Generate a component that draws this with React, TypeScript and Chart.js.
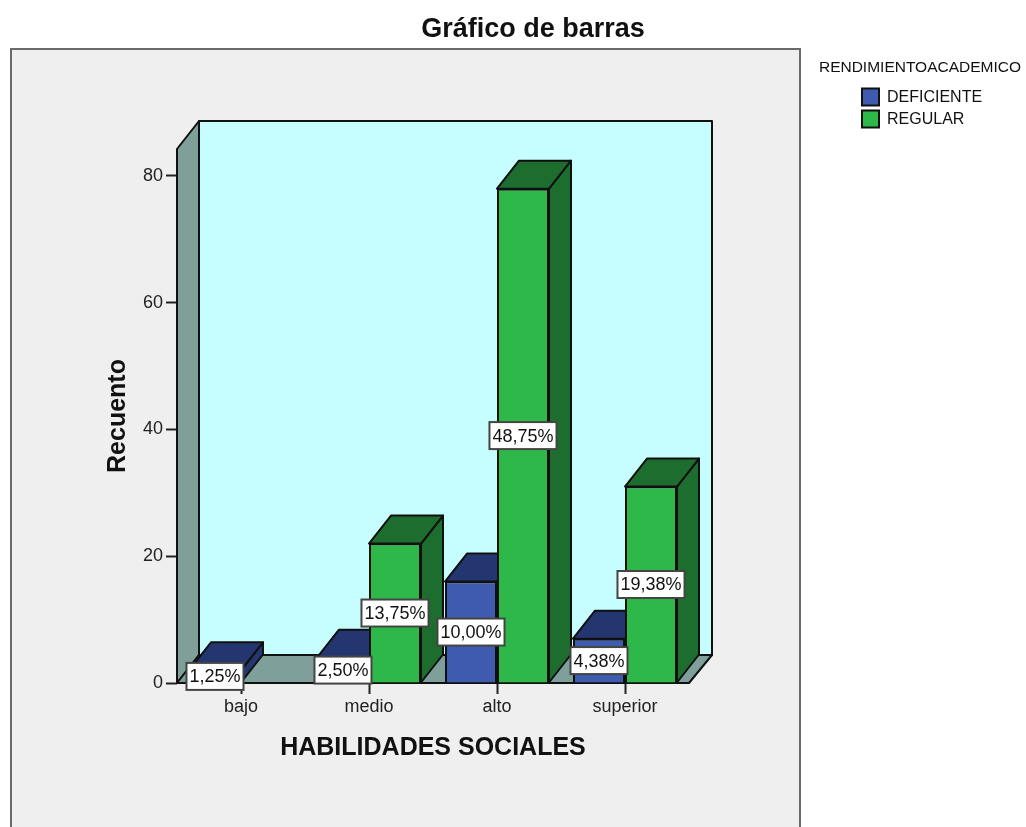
import React, { useEffect, useRef } from "react";
import { Chart, registerables } from "chart.js";

Chart.register(...registerables);

const categories = ["bajo", "medio", "alto", "superior"];
const deficiente = [2, 4, 16, 7];
const regular = [null, 22, 78, 31];
const deficienteLabels = ["1,25%", "2,50%", "10,00%", "4,38%"];
const regularLabels = ["", "13,75%", "48,75%", "19,38%"];
const pointLabels = [deficienteLabels, regularLabels];
const yTicks = [0, 20, 40, 60, 80];

const FONT = "'Liberation Sans', Arial, sans-serif";
const DX = 22;
const DY = 28;
const INK = "#101010";
const fronts = ["#3f5bb0", "#2fb84a"];
const shades = ["#24366f", "#1d6e2e"];

const poly = (ctx: CanvasRenderingContext2D, pts: number[][], fill: string) => {
  ctx.beginPath();
  pts.forEach(([x, y], i) => (i ? ctx.lineTo(x, y) : ctx.moveTo(x, y)));
  ctx.closePath();
  ctx.fillStyle = fill;
  ctx.fill();
  ctx.stroke();
};

const panelPlugin = {
  id: "panel",
  beforeDraw(chart: any) {
    const ctx = chart.ctx;
    ctx.save();
    ctx.fillStyle = "#efefef";
    ctx.fillRect(11, 49, 789, 790);
    ctx.strokeStyle = "#6a6a6a";
    ctx.lineWidth = 2;
    ctx.strokeRect(11, 49, 789, 790);
    ctx.restore();
  },
};

const boxesPlugin = {
  id: "moveBoxes",
  afterLayout(chart: any) {
    const t = chart.titleBlock;
    t.left = 33;
    t.right = 1033;
    t.width = 1000;
    t.top = 13;
    t.bottom = 45.4;
    const l = chart.legend;
    l.left = 857;
    l.width = 126;
    l.right = 983;
    l.top = 60;
    l.height = 120;
    l.bottom = 180;
    // the moved legend title is wider than the legend's own box: draw without its clip
    l.draw = function () {
      this._draw();
    };
  },
};

const depthPlugin = {
  id: "depth",
  beforeDatasetsDraw(chart: any) {
    const { ctx, chartArea: a } = chart;
    ctx.save();
    ctx.strokeStyle = INK;
    ctx.lineWidth = 2;
    ctx.lineJoin = "round";
    const backR = a.right + DX + 1;
    ctx.fillStyle = "#c6feff";
    ctx.fillRect(a.left + DX, a.top - DY, backR - a.left - DX, a.bottom - a.top);
    ctx.strokeRect(a.left + DX, a.top - DY, backR - a.left - DX, a.bottom - a.top);
    poly(ctx, [[a.left, a.top], [a.left + DX, a.top - DY], [a.left + DX, a.bottom - DY], [a.left, a.bottom]], "#7f9f9b");
    poly(ctx, [[a.left, a.bottom], [a.left + DX, a.bottom - DY], [backR, a.bottom - DY], [a.right, a.bottom]], "#7f9f9b");
    chart.data.datasets.forEach((ds: any, di: number) => {
      chart.getDatasetMeta(di).data.forEach((bar: any, i: number) => {
        if (ds.data[i] == null) return;
        const l = bar.x - bar.width / 2;
        const r = bar.x + bar.width / 2;
        const shade = shades[di];
        poly(ctx, [[r, bar.y], [r + DX, bar.y - DY], [r + DX, bar.base - DY], [r, bar.base]], shade);
        poly(ctx, [[l, bar.y], [l + DX, bar.y - DY], [r + DX, bar.y - DY], [r, bar.y]], shade);
      });
    });
    ctx.restore();
  },
};

const labelPlugin = {
  id: "pctLabels",
  afterDatasetsDraw(chart: any) {
    const ctx = chart.ctx;
    ctx.save();
    ctx.font = `18px ${FONT}`;
    ctx.textAlign = "center";
    ctx.textBaseline = "middle";
    chart.data.datasets.forEach((ds: any, di: number) => {
      chart.getDatasetMeta(di).data.forEach((bar: any, i: number) => {
        if (ds.data[i] == null) return;
        const text = pointLabels[di][i];
        const w = ctx.measureText(text).width + 6;
        const h = 27;
        const cy = (bar.y + bar.base) / 2;
        ctx.fillStyle = "#ffffff";
        ctx.strokeStyle = "#444444";
        ctx.lineWidth = 2;
        ctx.fillRect(bar.x - w / 2, cy - h / 2, w, h);
        ctx.strokeRect(bar.x - w / 2, cy - h / 2, w, h);
        ctx.fillStyle = "#111111";
        ctx.fillText(text, bar.x, cy + 1);
      });
    });
    ctx.restore();
  },
};

export default function App() {
  const ref = useRef<HTMLCanvasElement | null>(null);
  useEffect(() => {
    const chart = new Chart(ref.current as HTMLCanvasElement, {
      type: "bar",
      data: {
        labels: categories,
        datasets: [
          { label: "DEFICIENTE", data: deficiente, backgroundColor: fronts[0], borderColor: INK, borderWidth: 2, categoryPercentage: 0.8125, barPercentage: 1 },
          { label: "REGULAR", data: regular, backgroundColor: fronts[1], borderColor: INK, borderWidth: 2, categoryPercentage: 0.8125, barPercentage: 1 },
        ],
      } as any,
      options: {
        responsive: false,
        animation: false,
        layout: { padding: { left: 103, right: 297, top: 116.6, bottom: 64 } },
        plugins: {
          tooltip: { enabled: false },
          title: {
            display: true,
            text: "Gráfico de barras",
            color: "#111111",
            padding: 0,
            font: { family: FONT, size: 27, weight: "bold" },
          },
          legend: {
            display: true,
            position: "right",
            align: "start",
            maxWidth: 40,
            title: {
              display: true,
              text: "RENDIMIENTOACADEMICO",
              position: "center",
              color: "#111111",
              padding: { top: 0, bottom: 5 },
              font: { family: FONT, size: 15.5 },
            },
            labels: {
              boxWidth: 17,
              boxHeight: 17,
              padding: 5,
              color: "#111111",
              font: { family: FONT, size: 16 },
            },
          },
        },
        scales: {
          x: {
            afterFit(s: any) { s.height = 80; },
            grid: { offset: false, drawOnChartArea: false, drawTicks: true, tickLength: 11, tickWidth: 2, tickColor: "#222222" },
            border: { display: false },
            ticks: { color: "#222222", padding: 2, font: { family: FONT, size: 18 } },
            title: { display: true, text: "HABILIDADES SOCIALES", color: "#111111", padding: 0, font: { family: FONT, size: 25, weight: "bold" } },
          },
          y: {
            min: 0,
            max: 84.26,
            afterFit(s: any) { s.width = 74; },
            afterBuildTicks(s: any) { s.ticks = yTicks.map((value) => ({ value })); },
            grid: { drawOnChartArea: false, drawTicks: true, tickLength: 11, tickWidth: 2, tickColor: "#222222" },
            border: { display: false },
            ticks: { color: "#222222", padding: 3, font: { family: FONT, size: 18 } },
            title: { display: true, text: "Recuento", color: "#111111", padding: 0, font: { family: FONT, size: 25, weight: "bold" } },
          },
        },
      } as any,
      plugins: [panelPlugin, boxesPlugin, depthPlugin, labelPlugin],
    });
    return () => chart.destroy();
  }, []);
  return (
    <canvas
      ref={ref}
      width={1026}
      height={827}
      style={{ position: "absolute", left: 0, top: 0, width: 1026, height: 827, display: "block" }}
    />
  );
}
